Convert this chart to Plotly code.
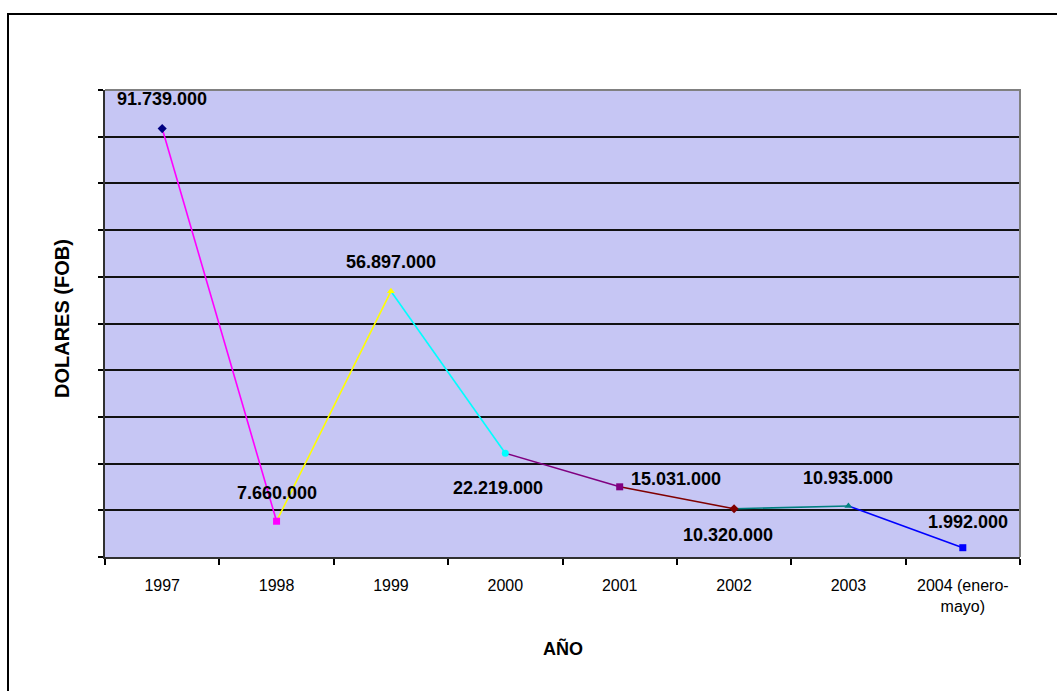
import plotly.graph_objects as go

# ---- data ----
years = ["1997", "1998", "1999", "2000", "2001", "2002", "2003", "2004"]
tick_labels = ["1997", "1998", "1999", "2000", "2001", "2002", "2003", "2004 (enero-<br>mayo)"]
values = [91739000, 7660000, 56897000, 22219000, 15031000, 10320000, 10935000, 1992000]

# ---- style ----
point_colors = ["#000080", "#FF00FF", "#FFFF00", "#00FFFF", "#800080", "#800000", "#008080", "#0000FF"]
point_symbols = ["diamond", "square", "triangle-up", "circle", "square", "diamond", "triangle-up", "square"]
# label offsets (px) relative to each point
label_dx = [0, 0, 0, -7, 56, -6, 0, 5]
label_dy = [30, 28, 29, -35, 8, -26, 28, 26]

FONT = "Liberation Sans, Arial, sans-serif"

def fmt(v):
    return f"{v:,}".replace(",", ".")

fig = go.Figure()

# line segments, each coloured like the point it leads to
for i in range(1, len(years)):
    fig.add_trace(go.Scatter(
        x=[years[i - 1], years[i]], y=[values[i - 1], values[i]],
        mode="lines", line=dict(color=point_colors[i], width=1.6),
        showlegend=False, hoverinfo="skip"))

# markers
fig.add_trace(go.Scatter(
    x=years, y=values, mode="markers",
    marker=dict(color=point_colors, symbol=point_symbols, size=7,
                line=dict(width=0)),
    showlegend=False))

# data labels (x given as category index)
for i, v in enumerate(values):
    fig.add_annotation(x=i, y=v, text=f"<b>{fmt(v)}</b>", showarrow=False,
                       xshift=label_dx[i], yshift=label_dy[i],
                       font=dict(family=FONT, size=18, color="#000000"),
                       xanchor="center", yanchor="middle")

# axis titles
fig.add_annotation(xref="paper", yref="paper", x=(563 - 105) / 915, y=(557 - 648) / 467,
                   text="<b>AÑO</b>", showarrow=False,
                   font=dict(family=FONT, size=18, color="#000000"),
                   xanchor="center", yanchor="middle")
fig.add_annotation(xref="paper", yref="paper", x=(62 - 105) / 915, y=(557 - 319) / 467,
                   text="<b>DOLARES (FOB)</b>", showarrow=False, textangle=-90,
                   font=dict(family=FONT, size=20, color="#000000"),
                   xanchor="center", yanchor="middle")

# plot area top/right grey border
fig.add_shape(type="path", xref="paper", yref="paper", path="M 0,1 L 1,1 L 1,0",
              line=dict(color="#808080", width=2), layer="above")
# outer chart frame (extends past the image)
fig.add_shape(type="rect", xref="paper", yref="paper",
              x0=(8 - 105) / 915, y0=(557 - 700) / 467,
              x1=(1065 - 105) / 915, y1=(557 - 14) / 467,
              line=dict(color="#000000", width=2), fillcolor="rgba(0,0,0,0)", layer="above")

fig.update_xaxes(
    type="category", categoryorder="array", categoryarray=years,
    tickvals=years, ticktext=tick_labels,
    range=[-0.5, len(years) - 0.5],
    showgrid=False, zeroline=False,
    showline=True, linecolor="#303030", linewidth=1.5,
    ticks="outside", tickson="boundaries", ticklen=6, tickwidth=1.5, tickcolor="#000000",
    tickfont=dict(family=FONT, size=16, color="#000000"),
    ticklabelstandoff=13,
)
fig.update_yaxes(
    range=[0, 100000000], dtick=10000000, tick0=0,
    showticklabels=False,
    showgrid=True, gridcolor="#111111", gridwidth=2,
    zeroline=False,
    showline=True, linecolor="#303030", linewidth=1.5,
    ticks="outside", ticklen=5, tickwidth=1.5, tickcolor="#000000",
)

fig.update_layout(
    width=1057, height=691,
    margin=dict(l=105, r=37, t=90, b=134),
    paper_bgcolor="#FFFFFF", plot_bgcolor="#C6C6F4",
    showlegend=False,
    font=dict(family=FONT, color="#000000"),
)

fig.write_html("out.html")
